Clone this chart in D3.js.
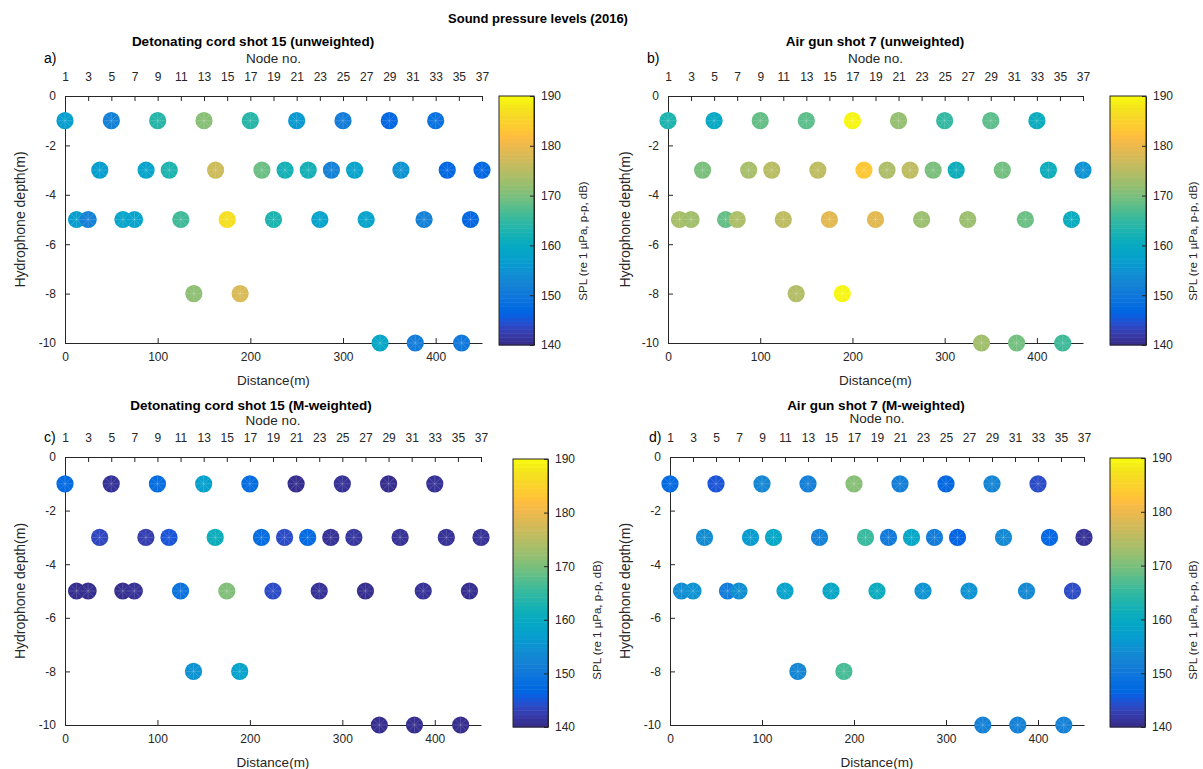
<!DOCTYPE html>
<html>
<head>
<meta charset="utf-8">
<script src="https://cdn.jsdelivr.net/npm/d3@7"></script>
<style>
  body { margin: 0; background: #fff; }
  svg { font-family: "Liberation Sans", Arial, Helvetica, sans-serif; }
</style>
</head>
<body>
<svg id="chart" width="1203" height="769"></svg>
<script>
// ---- Hydrophone array geometry (one entry per node, node 1..37) ----
const nodeDistance = [0, 12.5, 25, 37.5, 50, 62.5, 75, 87.5, 100, 112.5, 125, 139, 150, 162.5, 175, 189,
  200, 212.5, 225, 237.5, 250, 262.5, 275, 287.5, 300, 312.5, 325, 340, 350, 362.5, 378, 387.5,
  400, 412.5, 428, 437.5, 450];
const nodeDepth = [-1, -5, -5, -3, -1, -5, -5, -3, -1, -3, -5, -8, -1, -3, -5, -8,
  -1, -3, -5, -3, -1, -3, -5, -3, -1, -3, -5, -10, -1, -3, -10, -5,
  -1, -3, -10, -5, -3];

// ---- Sound pressure levels, dB re 1 µPa peak-to-peak ----
const splCordUnweighted = [157, 157, 152, 157, 152, 158.5, 158, 158, 164, 163, 166, 171.5, 171, 177, 187, 178,
  164, 169, 163, 162, 156, 162, 158, 152, 151, 158, 158, 159, 147, 155, 151, 152,
  149, 147, 150, 147, 147];
const splAirgunUnweighted = [163, 173.5, 173, 170, 159.5, 168.5, 174, 173.5, 168.5, 175, 175.5, 174.5, 168, 175.5, 179, 189.5,
  189.5, 183.5, 179, 174, 172, 175.5, 172.5, 170, 165, 161, 172.5, 173, 168, 169.5, 169.5, 169,
  160.5, 161, 166, 160.5, 155];
const splCordMWeighted = [147.5, 140.5, 140.5, 143.5, 141, 140.5, 141, 142.5, 148, 145, 149, 155, 157.5, 161, 170.5, 158,
  148, 148, 144, 144, 140.5, 147.5, 141, 141, 141, 141.5, 140.5, 140.5, 140.5, 141, 140.5, 141,
  141, 141, 140.5, 140.5, 141];
const splAirgunMWeighted = [147.5, 154, 155, 154, 145, 151, 154.5, 156.5, 153, 159, 158, 153, 151.5, 152, 159, 166.5,
  171, 165.5, 160.5, 150.5, 151.5, 159, 155, 151, 147, 146.5, 155, 152, 152.5, 153.5, 152, 153.5,
  144, 147, 152, 144, 141];

// ---- Axis ticks ----
const nodeTicks = d3.range(1, 38, 2);           // 1, 3, ..., 37
const distanceTicks = [0, 100, 200, 300, 400];
const depthTicks = [0, -2, -4, -6, -8, -10];
const splTicks = [140, 150, 160, 170, 180, 190];
const splRange = [140, 190];

// ---- Parula colormap (64 entries) ----
const parula = [
  [0.2081,0.1663,0.5292],[0.2116,0.1898,0.5777],[0.2123,0.2138,0.6270],[0.2081,0.2386,0.6771],
  [0.1959,0.2645,0.7279],[0.1707,0.2919,0.7792],[0.1253,0.3242,0.8303],[0.0591,0.3598,0.8683],
  [0.0117,0.3875,0.8820],[0.0060,0.4086,0.8828],[0.0165,0.4266,0.8786],[0.0329,0.4430,0.8720],
  [0.0498,0.4586,0.8641],[0.0629,0.4737,0.8554],[0.0723,0.4887,0.8467],[0.0779,0.5040,0.8384],
  [0.0793,0.5200,0.8312],[0.0749,0.5375,0.8263],[0.0641,0.5570,0.8240],[0.0488,0.5772,0.8228],
  [0.0343,0.5966,0.8199],[0.0265,0.6137,0.8135],[0.0239,0.6287,0.8038],[0.0231,0.6418,0.7913],
  [0.0228,0.6535,0.7768],[0.0267,0.6642,0.7607],[0.0384,0.6743,0.7436],[0.0590,0.6838,0.7254],
  [0.0843,0.6928,0.7062],[0.1133,0.7015,0.6859],[0.1453,0.7098,0.6646],[0.1801,0.7177,0.6424],
  [0.2178,0.7250,0.6193],[0.2586,0.7317,0.5954],[0.3022,0.7376,0.5712],[0.3482,0.7424,0.5473],
  [0.3953,0.7459,0.5244],[0.4420,0.7481,0.5033],[0.4871,0.7491,0.4840],[0.5300,0.7491,0.4661],
  [0.5709,0.7485,0.4494],[0.6099,0.7473,0.4337],[0.6473,0.7456,0.4188],[0.6834,0.7435,0.4044],
  [0.7184,0.7411,0.3905],[0.7525,0.7384,0.3768],[0.7858,0.7356,0.3633],[0.8185,0.7327,0.3498],
  [0.8507,0.7299,0.3360],[0.8824,0.7274,0.3217],[0.9139,0.7258,0.3063],[0.9450,0.7261,0.2886],
  [0.9739,0.7314,0.2666],[0.9938,0.7455,0.2403],[0.9990,0.7653,0.2164],[0.9955,0.7861,0.1967],
  [0.9880,0.8066,0.1794],[0.9789,0.8271,0.1633],[0.9697,0.8481,0.1475],[0.9626,0.8705,0.1309],
  [0.9589,0.8949,0.1132],[0.9598,0.9218,0.0948],[0.9661,0.9514,0.0755],[0.9763,0.9831,0.0538]
].map(c => d3.rgb(c[0] * 255, c[1] * 255, c[2] * 255));

const color = d3.scaleSequential(d3.piecewise(d3.interpolateRgb, parula))
  .domain(splRange).clamp(true);

const INK = "#262626";
const svg = d3.select("#chart");

// ---- Layout of the four panels ----
const panels = [
  { tag: "a)", title: "Detonating cord shot 15 (unweighted)", values: splCordUnweighted,
    plot: { l: 65, r: 482, t: 96, b: 343 }, titleX: 253, titleY: 46, nodeY: 63, tagY: 63,
    cb: { x: 499, w: 35, t: 96, b: 345 }, cbLabelX: 583, cbLabelY: 241, yLabelX: 20 },
  { tag: "b)", title: "Air gun shot 7 (unweighted)", values: splAirgunUnweighted,
    plot: { l: 668, r: 1083, t: 96, b: 343 }, titleX: 875, titleY: 46, nodeY: 63, tagY: 63,
    cb: { x: 1110, w: 36, t: 96, b: 345 }, cbLabelX: 1193, cbLabelY: 241, yLabelX: 625 },
  { tag: "c)", title: "Detonating cord shot 15 (M-weighted)", values: splCordMWeighted,
    plot: { l: 65, r: 481, t: 457, b: 725 }, titleX: 251, titleY: 410, nodeY: 425, tagY: 442,
    cb: { x: 513, w: 35, t: 459, b: 727 }, cbLabelX: 597, cbLabelY: 620, yLabelX: 20 },
  { tag: "d)", title: "Air gun shot 7 (M-weighted)", values: splAirgunMWeighted,
    plot: { l: 670, r: 1084, t: 457, b: 725 }, titleX: 876, titleY: 410, nodeY: 423, tagY: 442,
    cb: { x: 1110, w: 35, t: 458, b: 727 }, cbLabelX: 1193, cbLabelY: 620, yLabelX: 625 }
];

function styleAxis(g) {
  g.selectAll("path.domain").attr("stroke", INK).attr("stroke-width", 1);
  g.selectAll(".tick line").attr("stroke", INK).attr("stroke-width", 1);
  g.selectAll(".tick text").attr("fill", INK).attr("font-size", 12)
    .attr("font-family", '"Liberation Sans", Arial, sans-serif');
}

// overall title
svg.append("text").attr("x", 538).attr("y", 23).attr("text-anchor", "middle")
  .attr("font-size", 13).attr("font-weight", "bold").attr("fill", "#000")
  .text("Sound pressure levels (2016)");

panels.forEach(p => {
  const P = p.plot;
  const x = d3.scaleLinear().domain([0, 450]).range([P.l, P.r]);
  const node = d3.scaleLinear().domain([1, 37]).range([P.l, P.r]);
  const y = d3.scaleLinear().domain([-10, 0]).range([P.b, P.t]);
  const g = svg.append("g");

  // bottom distance axis
  g.append("g").attr("transform", `translate(0,${P.b})`)
    .call(d3.axisBottom(x).tickValues(distanceTicks).tickFormat(d => String(d))
      .tickSize(-5).tickSizeOuter(0).tickPadding(9))
    .call(styleAxis);

  // top node axis
  g.append("g").attr("transform", `translate(0,${P.t})`)
    .call(d3.axisTop(node).tickValues(nodeTicks).tickFormat(d => String(d))
      .tickSize(-5).tickSizeOuter(0).tickPadding(15))
    .call(styleAxis);

  // left depth axis
  g.append("g").attr("transform", `translate(${P.l},0)`)
    .call(d3.axisLeft(y).tickValues(depthTicks).tickFormat(d => String(d))
      .tickSize(-5).tickSizeOuter(0).tickPadding(9))
    .call(styleAxis);

  // axis titles
  g.append("text").attr("x", (P.l + P.r) / 2).attr("y", P.b + 42).attr("text-anchor", "middle")
    .attr("font-size", 13.5).attr("fill", INK).text("Distance(m)");
  g.append("text").attr("x", (P.l + P.r) / 2).attr("y", p.nodeY).attr("text-anchor", "middle")
    .attr("font-size", 13.5).attr("fill", INK).text("Node no.");
  g.append("text")
    .attr("transform", `translate(${p.yLabelX},${(P.t + P.b) / 2}) rotate(-90)`)
    .attr("text-anchor", "middle").attr("dy", "0.35em")
    .attr("font-size", 14).attr("fill", INK).text("Hydrophone depth(m)");

  // panel title and tag
  g.append("text").attr("x", p.titleX).attr("y", p.titleY).attr("text-anchor", "middle")
    .attr("font-size", 13.5).attr("font-weight", "bold").attr("fill", "#000").text(p.title);
  g.append("text").attr("x", P.l - 21).attr("y", p.tagY).attr("font-size", 14)
    .attr("fill", "#000").text(p.tag);

  // hydrophone markers
  const marks = g.append("g").selectAll("g.mark")
    .data(d3.range(nodeDistance.length))
    .join("g").attr("class", "mark")
    .attr("transform", i => `translate(${x(nodeDistance[i])},${y(nodeDepth[i])})`);
  const r = 8.6;
  marks.append("circle").attr("r", r).attr("fill", i => color(p.values[i]));
  marks.each(function () {
    const m = d3.select(this);
    for (let k = 0; k < 8; k++) {
      const a = k * Math.PI / 4;
      m.append("line").attr("x1", 0).attr("y1", 0)
        .attr("x2", Math.cos(a) * (r - 1)).attr("y2", Math.sin(a) * (r - 1))
        .attr("stroke", "#fff").attr("stroke-opacity", 0.28).attr("stroke-width", 0.6);
    }
  });

  // colorbar
  const C = p.cb;
  const cy = d3.scaleLinear().domain(splRange).range([C.b, C.t]);
  const nBands = parula.length;
  const band = (splRange[1] - splRange[0]) / nBands;
  g.append("g").selectAll("rect")
    .data(d3.range(nBands))
    .join("rect")
    .attr("x", C.x).attr("width", C.w)
    .attr("y", k => cy(splRange[0] + (k + 1) * band))
    .attr("height", k => cy(splRange[0] + k * band) - cy(splRange[0] + (k + 1) * band) + 0.5)
    .attr("fill", k => color(splRange[0] + (k + 0.5) * band));
  g.append("rect").attr("x", C.x).attr("y", C.t).attr("width", C.w).attr("height", C.b - C.t)
    .attr("fill", "none").attr("stroke", INK).attr("stroke-width", 1);
  g.append("g").attr("transform", `translate(${C.x + C.w},0)`)
    .call(d3.axisRight(cy).tickValues(splTicks).tickFormat(d => String(d))
      .tickSize(-4).tickSizeOuter(0).tickPadding(7))
    .call(styleAxis);
  g.append("text")
    .attr("transform", `translate(${p.cbLabelX},${p.cbLabelY}) rotate(-90)`)
    .attr("text-anchor", "middle").attr("dy", "0.35em")
    .attr("font-size", 11.5).attr("fill", INK).text("SPL (re 1 µPa, p-p, dB)");
});
</script>
</body>
</html>
